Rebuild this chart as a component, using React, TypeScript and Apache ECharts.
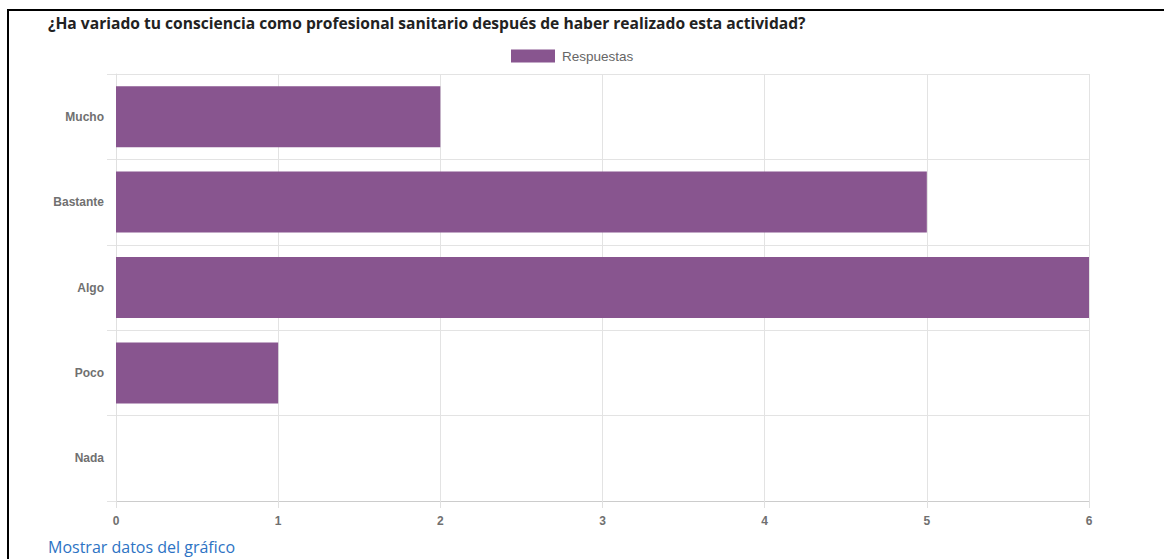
import React, { useEffect, useRef } from "react";
import * as echarts from "echarts";

const titleText = "¿Ha variado tu consciencia como profesional sanitario después de haber realizado esta actividad?";
const categories = ["Mucho", "Bastante", "Algo", "Poco", "Nada"];
const values = [2, 5, 6, 1, 0];
const seriesName = "Respuestas";
const linkText = "Mostrar datos del gráfico";

export default function App() {
  const ref = useRef<HTMLDivElement>(null);
  useEffect(() => {
    if (!ref.current) return;
    const chart = echarts.init(ref.current, null, { renderer: "svg" });
    chart.setOption({
      animation: false,
      backgroundColor: "#ffffff",
      textStyle: { fontFamily: "Arial, 'Liberation Sans', sans-serif" },
      legend: {
        data: [seriesName],
        left: 511,
        top: 49,
        itemWidth: 44,
        itemHeight: 13,
        itemGap: 10,
        icon: "rect",
        textStyle: { color: "#666", fontSize: 13.5, padding: [0, 0, 0, 2] },
        padding: 0,
      },
      grid: { left: 116, right: 75, top: 74, bottom: 58, containLabel: false },
      xAxis: {
        type: "value",
        min: 0,
        max: 6,
        interval: 1,
        axisLine: { show: true, lineStyle: { color: "#cccccc", width: 1 } },
        axisTick: { show: true, length: 7, lineStyle: { color: "#e0e0e0" } },
        splitLine: { show: true, lineStyle: { color: "#e3e3e3" } },
        axisLabel: { color: "#707070", fontSize: 12, fontWeight: "bold", margin: 14 },
      },
      yAxis: {
        type: "category",
        data: categories,
        inverse: true,
        axisLine: { show: true, lineStyle: { color: "#e0e0e0" } },
        axisTick: { show: true, length: 9, lineStyle: { color: "#e3e3e3" } },
        splitLine: { show: true, lineStyle: { color: "#e3e3e3" } },
        axisLabel: { color: "#707070", fontSize: 12, fontWeight: "bold", margin: 12 },
      },
      series: [
        {
          name: seriesName,
          type: "bar",
          data: values,
          barCategoryGap: "28.6%",
          itemStyle: { color: "#88558f" },
        },
      ],
      graphic: [
        {
          type: "line",
          shape: { x1: 7, y1: 10, x2: 1164, y2: 10 },
          style: { stroke: "#000", lineWidth: 2 },
          silent: true,
        },
        {
          type: "line",
          shape: { x1: 8, y1: 10, x2: 8, y2: 559 },
          style: { stroke: "#000", lineWidth: 2 },
          silent: true,
        },
        {
          type: "text",
          left: 48,
          top: 15,
          style: {
            text: titleText,
            fill: "#222",
            font: "bold 15.6px 'Open Sans', 'Noto Sans', sans-serif",
          },
        },
        {
          type: "text",
          left: 48,
          top: 539,
          style: {
            text: linkText,
            fill: "#2d73c4",
            font: "16px 'Open Sans', 'Noto Sans', sans-serif",
          },
        },
      ],
    });
    return () => chart.dispose();
  }, []);
  return (
    <div
      ref={ref}
      style={{ position: "fixed", left: 0, top: 0, width: 1164, height: 559 }}
    />
  );
}
